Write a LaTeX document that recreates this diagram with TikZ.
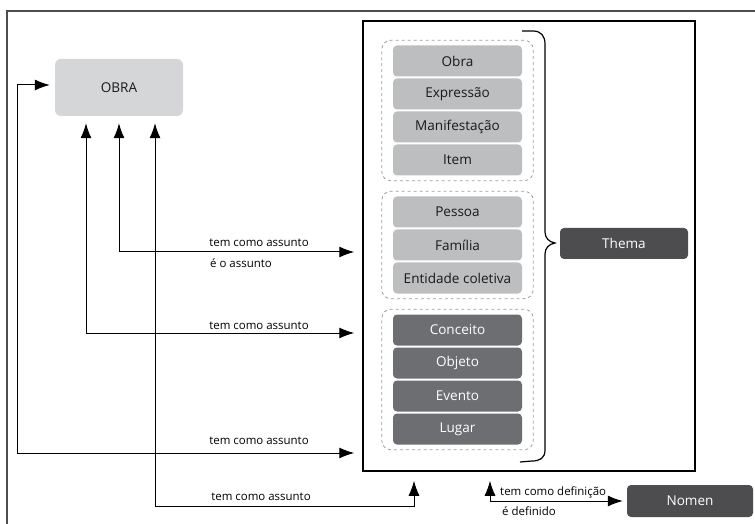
\documentclass[tikz,border=0pt]{standalone}
\usepackage{fontspec}
\setmainfont{Open Sans}
\usetikzlibrary{arrows.meta,fit}
\definecolor{lightbox}{HTML}{BCBEC0}
\definecolor{darkbox}{HTML}{6D6E71}
\definecolor{deepbox}{HTML}{4D4D4F}
\definecolor{workbox}{HTML}{D5D6D8}
\definecolor{dashgray}{HTML}{9D9D9D}
\definecolor{framegray}{HTML}{4D4D4D}
\tikzset{
  entity/.style={rectangle, rounded corners=4bp, minimum width=129bp,
    minimum height=31bp, inner sep=0pt, font=\fontsize{13.6}{15}\selectfont},
  light/.style={entity, fill=lightbox, text=black!90},
  dark/.style={entity, fill=darkbox, text=white},
  deep/.style={entity, fill=deepbox, text=white},
  group/.style={draw=dashgray, dashed, rounded corners=9bp, line width=0.8bp,
    inner xsep=11bp, inner ysep=5bp},
  rel/.style={{Latex[length=15bp,width=11bp]}-{Latex[length=15bp,width=11bp]},
    line width=1bp},
  lbl/.style={font=\fontsize{11.5}{13}\selectfont, inner sep=0pt}
}
\begin{document}
\begin{tikzpicture}[x=1bp,y=-1bp]
  \useasboundingbox (0,0) rectangle (755,524);
  % partial outer frame
  \draw[framegray, line width=2bp] (7,524) -- (7,11) -- (755,11);

  % container of the subject entities
  \node[draw, line width=1.5bp, minimum width=332bp, minimum height=450bp,
    inner sep=0pt] (cont) at (529,246) {};

  % first group: work, expression, manifestation, item
  \node[light] (obra)  at (457.5,61)  {Obra};
  \node[light] (expr)  at (457.5,94)  {Expressão};
  \node[light] (manif) at (457.5,127) {Manifestação};
  \node[light] (item)  at (457.5,160) {Item};
  % second group: agents
  \node[light] (pess)  at (457.5,212) {Pessoa};
  \node[light] (fam)   at (457.5,245) {Família};
  \node[light] (ent)   at (457.5,278) {Entidade coletiva};
  % third group
  \node[dark] (conc)   at (457.5,330) {Conceito};
  \node[dark] (obj)    at (457.5,363) {Objeto};
  \node[dark] (evt)    at (457.5,396) {Evento};
  \node[dark] (lug)    at (457.5,429) {Lugar};

  \node[group, fit=(obra)(item)] (g1) {};
  \node[group, fit=(pess)(ent)]  (g2) {};
  \node[group, fit=(conc)(lug)]  (g3) {};

  % brace gathering all groups
  \draw[line width=1.2bp] (522,31) -- (533,31)
    .. controls (541,31) and (545,36) .. (545,44) -- (545,232)
    .. controls (545,238) and (549,242) .. (555,243)
    .. controls (549,244) and (545,248) .. (545,254) -- (545,450)
    .. controls (545,458) and (540,461) .. (532,461) -- (520,462);

  \node[deep, minimum width=128bp] (thema) at (624,243.5) {Thema};
  \node[deep, minimum width=126bp, minimum height=32bp] (nomen) at (690,501) {Nomen};
  \node[entity, fill=workbox, rounded corners=6bp, minimum width=128bp,
    minimum height=57bp, text=black!90] (work) at (119,87.5) {OBRA};

  % relationships from OBRA
  \coordinate (a1) at (17,453);
  \draw[rel, shorten <=5bp, shorten >=8bp]
    ([yshift=2.5bp]work.west) -| (a1) -- (a1 -| cont.west);
  \draw[rel, shorten <=7bp, shorten >=8bp]
    (work.south) |- (cont.west |- 0,252);
  \draw[rel, shorten <=7bp, shorten >=8bp]
    ([xshift=-33bp]work.south) |- (cont.west |- 0,333);
  \coordinate (d1) at (414,506);
  \draw[rel, shorten <=7bp, shorten >=9bp]
    ([xshift=36bp]work.south) |- (d1) -- (d1 |- cont.south);

  \node[lbl] (l1) at (259,243) {tem como assunto};
  \node[lbl, anchor=west] (l1b) at (210,263) {é o assunto};
  \node[lbl] (l2) at (259,326) {tem como assunto};
  \node[lbl] (l3) at (259,441) {tem como assunto};
  \node[lbl] (l4) at (261,497) {tem como assunto};

  % relationship to the name
  \coordinate (n1) at (490,501);
  \draw[rel, shorten <=9bp, shorten >=4bp]
    (n1 |- cont.south) -- (n1) -- (nomen.west);
  \node[lbl, anchor=west] (l5) at (500,492) {tem como definição};
  \node[lbl, anchor=west] (l6) at (502,511) {é definido};
\end{tikzpicture}
\end{document}
